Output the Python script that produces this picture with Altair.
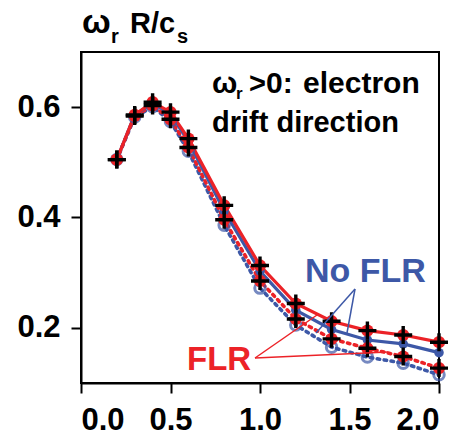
import altair as alt
import pandas as pd

x_vals = [0.2, 0.3, 0.4, 0.5, 0.6, 0.8, 1.0, 1.2, 1.4, 1.6, 1.8, 2.0]
red_solid = [0.505, 0.586, 0.609, 0.591, 0.543, 0.422, 0.313, 0.244, 0.212, 0.195, 0.187, 0.174]
blue_solid = [0.505, 0.586, 0.607, 0.588, 0.538, 0.412, 0.303, 0.232, 0.197, 0.178, 0.171, 0.155]
red_dotted = [0.505, 0.584, 0.603, 0.578, 0.527, 0.396, 0.285, 0.216, 0.180, 0.163, 0.148, 0.127]
blue_dotted = [0.505, 0.582, 0.601, 0.574, 0.520, 0.386, 0.272, 0.205, 0.165, 0.147, 0.136, 0.115]

x_ticks = [0.0, 0.5, 1.0, 1.5, 2.0]
y_ticks = [0.2, 0.4, 0.6]

RED = "#ec2227"
BLUE = "#3d58a7"
SANS = "Liberation Sans, Arial, sans-serif"
PLUS = "M-1,0L1,0M0,-1L0,1"

rows = []
for name, vals in [("red_solid", red_solid), ("blue_solid", blue_solid),
                   ("red_dotted", red_dotted), ("blue_dotted", blue_dotted)]:
    for xv, yv in zip(x_vals, vals):
        rows.append({"x": xv, "y": yv, "series": name})
df = pd.DataFrame(rows)

xs = alt.X("x:Q", scale=alt.Scale(domain=[0, 2], nice=False),
           axis=alt.Axis(values=x_ticks, format=".1f", title=None, labelPadding=12))
ys = alt.Y("y:Q", scale=alt.Scale(domain=[0.1, 0.7], nice=False, zero=False),
           axis=alt.Axis(values=y_ticks, format=".1f", title=None, labelPadding=11))

base = alt.Chart(df)


def sel(name):
    return base.transform_filter(alt.datum.series == name)


def line(name, color, dotted):
    kw = dict(color=color, strokeWidth=3.2, clip=False)
    if dotted:
        kw.update(strokeDash=[2.5, 4.5], strokeCap="round", strokeWidth=3.6)
    return sel(name).mark_line(**kw).encode(x=xs, y=ys)


layers = [
    line("blue_dotted", BLUE, True),
    line("red_dotted", RED, True),
    line("blue_solid", BLUE, False),
    line("red_solid", RED, False),
    sel("blue_dotted").mark_point(shape="circle", filled=False, color=BLUE, size=110,
                                  strokeWidth=3, clip=False).encode(x=xs, y=ys),
    sel("blue_solid").mark_point(shape="circle", filled=True, color=BLUE, size=90,
                                 opacity=1, clip=False).encode(x=xs, y=ys),
    sel("red_dotted").mark_point(shape="circle", filled=True, color=RED, size=150,
                                 opacity=1, clip=False).encode(x=xs, y=ys),
    sel("red_solid").mark_point(shape="circle", filled=True, color=RED, size=150,
                                opacity=1, clip=False).encode(x=xs, y=ys),
    sel("red_dotted").mark_point(shape=PLUS, filled=False, color="black", size=324,
                                 strokeWidth=3.4, opacity=1, clip=False).encode(x=xs, y=ys),
    sel("red_solid").mark_point(shape=PLUS, filled=False, color="black", size=324,
                                strokeWidth=3.4, opacity=1, clip=False).encode(x=xs, y=ys),
]

one = pd.DataFrame({"a": [0]})


def txt(s, x, y, size, color="black", font=SANS):
    return alt.Chart(one).mark_text(text=s, align="left", baseline="alphabetic",
                                    fontSize=size, fontWeight="bold", font=font,
                                    color=color).encode(x=alt.value(x), y=alt.value(y))


def rule(x1, y1, x2, y2, color):
    return alt.Chart(one).mark_rule(color=color, strokeWidth=1.5).encode(
        x=alt.value(x1), y=alt.value(y1), x2=alt.value(x2), y2=alt.value(y2))


texts = [
    txt("\u03c9", 1, -19, 34),
    txt("r", 30, -9, 20),
    txt("R/c", 49, -19, 29),
    txt("s", 96, -9, 20),
    txt("\u03c9", 131, 41, 30),
    txt("r", 155, 47, 17),
    txt(">", 168, 41, 29),
    txt("0:", 185, 41, 30),
    txt("electron", 222, 41, 30),
    txt("drift direction", 131, 80, 29),
    txt("No FLR", 224, 230, 34, BLUE),
    txt("FLR", 106, 318, 33, RED),
    rule(274, 237, 266, 281, BLUE),
    rule(274, 237, 235, 281, BLUE),
    rule(174, 306, 236, 263, RED),
    rule(174, 306, 307, 300, RED),
]

chart = alt.layer(*layers, *texts).properties(
    width=358, height=331,
    autosize=alt.AutoSizeParams(type="none"),
    padding={"left": 81, "top": 52, "right": 23, "bottom": 60},
).configure_view(stroke="black", strokeWidth=2).configure_axis(
    grid=False, domainColor="black", domainWidth=2, tickColor="black", tickWidth=2,
    tickSize=10, labelFont=SANS, labelFontSize=31, labelFontWeight="bold",
    labelColor="black",
)

chart.save("out.html", embed_options={"renderer": "svg", "actions": False})
